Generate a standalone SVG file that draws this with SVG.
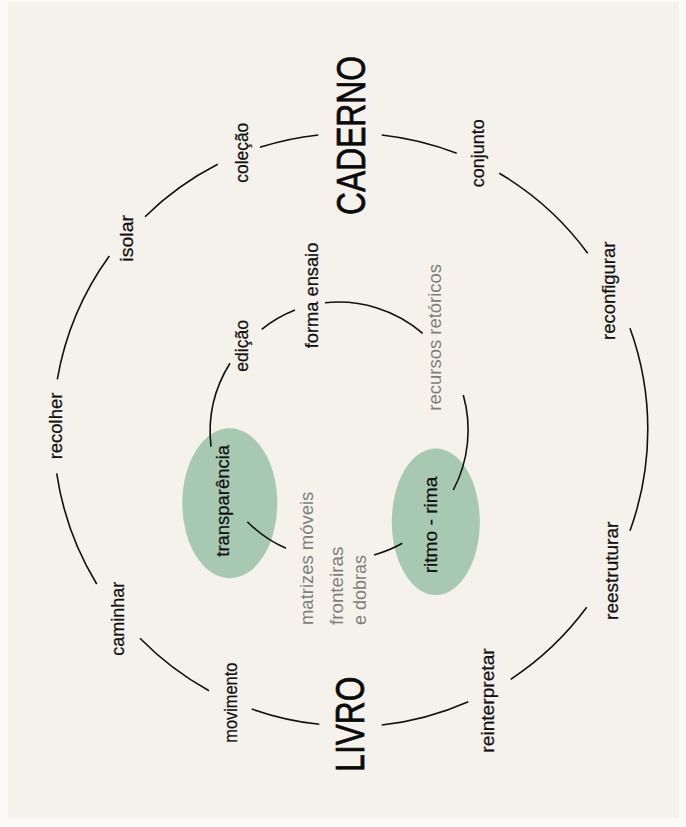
<svg xmlns="http://www.w3.org/2000/svg" width="686" height="827" viewBox="0 0 686 827">
  <style>
    .lbl { font-family: "Liberation Sans", Arial, sans-serif; font-size: 18px; fill: #111; stroke: #111; stroke-width: 0.25; text-anchor: middle; }
    .soft { font-family: "Liberation Sans", Arial, sans-serif; font-size: 18px; fill: #7e7e7e; }
    .big { font-family: "Liberation Sans", Arial, sans-serif; font-size: 40px; fill: #0a0a0a; stroke: #0a0a0a; stroke-width: 0.7; text-anchor: middle; }
    .arc { fill: none; stroke: #111; stroke-width: 1.6; stroke-linecap: butt; }
    .blob { fill: #a7c9b1; }
  </style>

  <!-- paper -->
  <rect x="0" y="0" width="686" height="827" fill="#fbfaf7"/>
  <rect x="8" y="2" width="671" height="816" fill="#f5f2eb"/>

  <!-- green highlight ellipses -->
  <g id="transparencia">
    <ellipse class="blob" cx="229.8" cy="503.3" rx="47.5" ry="75"/>
    <text class="lbl" transform="translate(228.5 500.8) rotate(-90)" textLength="111.7" lengthAdjust="spacingAndGlyphs">transparência</text>
  </g>
  <g id="ritmo-rima">
    <ellipse class="blob" cx="435.8" cy="521.7" rx="44" ry="73.3"/>
    <text class="lbl" transform="translate(436.5 525) rotate(-90)" textLength="96.7" lengthAdjust="spacingAndGlyphs">ritmo - rima</text>
  </g>

  <!-- connectors: outer ring and inner ring arcs -->
  <g id="connectors">
    <!-- outer ring, centre (351,430) r 296.5 -->
    <path class="arc" d="M381.7 135 A296.5 296.5 0 0 1 456.7 153.3"/>
    <path class="arc" d="M499.3 173.3 A296.5 296.5 0 0 1 587.7 253.3"/>
    <path class="arc" d="M630 328.3 A296.5 296.5 0 0 1 630 530.7"/>
    <path class="arc" d="M586.7 607.3 A296.5 296.5 0 0 1 510.7 679.3"/>
    <path class="arc" d="M468.3 701.7 A296.5 296.5 0 0 1 381.7 725"/>
    <path class="arc" d="M319.3 724.3 A296.5 296.5 0 0 1 251.7 709"/>
    <path class="arc" d="M209 690.7 A296.5 296.5 0 0 1 140 638.3"/>
    <path class="arc" d="M96.7 584 A296.5 296.5 0 0 1 56.7 473.3"/>
    <path class="arc" d="M57.3 379.3 A296.5 296.5 0 0 1 109.3 256"/>
    <path class="arc" d="M145 216.7 A296.5 296.5 0 0 1 217.7 164.3"/>
    <path class="arc" d="M260 147.3 A296.5 296.5 0 0 1 318.3 135"/>
    <!-- inner ring, centre (339,431) r 129 -->
    <path class="arc" d="M325 302.7 A129 129 0 0 1 422.7 333.3"/>
    <path class="arc" d="M463.3 395 A129 129 0 0 1 453.3 490"/>
    <path class="arc" d="M402.3 543.3 A129 129 0 0 1 374 555"/>
    <path class="arc" d="M286 548.3 A129 129 0 0 1 247.3 521.7"/>
    <path class="arc" d="M211 446.7 A129 129 0 0 1 230 363.3"/>
    <path class="arc" d="M261.7 329.3 A129 129 0 0 1 295 310"/>
  </g>

  <!-- main poles -->
  <g id="caderno">
    <text class="big" transform="translate(365 135.5) rotate(-90)" textLength="159" lengthAdjust="spacingAndGlyphs">CADERNO</text>
  </g>
  <g id="livro">
    <text class="big" transform="translate(364.3 724.2) rotate(-90)" textLength="95" lengthAdjust="spacingAndGlyphs">LIVRO</text>
  </g>

  <!-- outer ring terms -->
  <g id="conjunto"><text class="lbl" transform="translate(483.5 153.3) rotate(-90)" textLength="68" lengthAdjust="spacingAndGlyphs">conjunto</text></g>
  <g id="reconfigurar"><text class="lbl" transform="translate(614.5 290.8) rotate(-90)" textLength="98.3" lengthAdjust="spacingAndGlyphs">reconfigurar</text></g>
  <g id="reestruturar"><text class="lbl" transform="translate(618 570.8) rotate(-90)" textLength="98.3" lengthAdjust="spacingAndGlyphs">reestruturar</text></g>
  <g id="reinterpretar"><text class="lbl" transform="translate(494 700.5) rotate(-90)" textLength="104.3" lengthAdjust="spacingAndGlyphs">reinterpretar</text></g>
  <g id="movimento"><text class="lbl" transform="translate(236.7 702.7) rotate(-90)" textLength="80" lengthAdjust="spacingAndGlyphs">movimento</text></g>
  <g id="caminhar"><text class="lbl" transform="translate(124.3 618.7) rotate(-90)" textLength="74" lengthAdjust="spacingAndGlyphs">caminhar</text></g>
  <g id="recolher"><text class="lbl" transform="translate(61.5 426) rotate(-90)" textLength="66.7" lengthAdjust="spacingAndGlyphs">recolher</text></g>
  <g id="isolar"><text class="lbl" transform="translate(132.5 238.3) rotate(-90)" textLength="46.7" lengthAdjust="spacingAndGlyphs">isolar</text></g>
  <g id="colecao"><text class="lbl" transform="translate(247.5 152.7) rotate(-90)" textLength="60" lengthAdjust="spacingAndGlyphs">coleção</text></g>

  <!-- inner ring terms -->
  <g id="edicao"><text class="lbl" transform="translate(248 345.8) rotate(-90)" textLength="51.7" lengthAdjust="spacingAndGlyphs">edição</text></g>
  <g id="forma-ensaio"><text class="lbl" transform="translate(318 295.5) rotate(-90)" textLength="105.7" lengthAdjust="spacingAndGlyphs">forma ensaio</text></g>
  <g id="recursos-retoricos"><text class="soft" text-anchor="middle" transform="translate(440.5 337.3) rotate(-90)" textLength="146.7" lengthAdjust="spacingAndGlyphs">recursos retóricos</text></g>
  <g id="matrizes-moveis"><text class="soft" transform="translate(312.5 625) rotate(-90)" textLength="133.3" lengthAdjust="spacingAndGlyphs">matrizes móveis</text></g>
  <g id="fronteiras-dobras">
    <text class="soft" transform="translate(343 625) rotate(-90)" textLength="78.3" lengthAdjust="spacingAndGlyphs">fronteiras</text>
    <text class="soft" transform="translate(366 625) rotate(-90)" textLength="70" lengthAdjust="spacingAndGlyphs">e dobras</text>
  </g>
</svg>
